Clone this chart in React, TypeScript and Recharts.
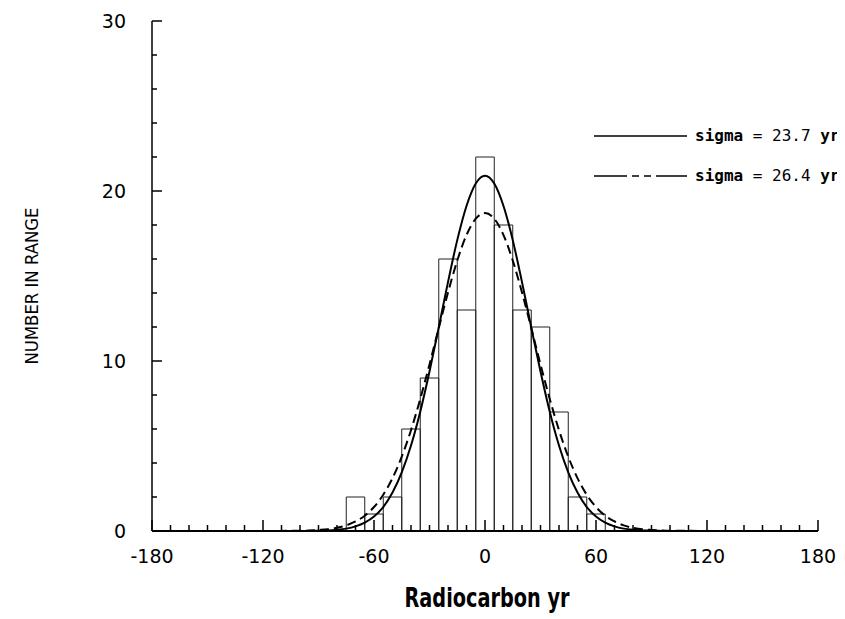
import React from 'react';
import { ComposedChart, Line, XAxis, YAxis, ReferenceArea, Customized } from 'recharts';

// Histogram (bins 10 yr wide, centred on these values)
const binCenters = [-70, -60, -50, -40, -30, -20, -10, 0, 10, 20, 30, 40, 50, 60];
const binCounts = [2, 1, 2, 6, 9, 16, 13, 22, 18, 13, 12, 7, 2, 1];
const BIN_WIDTH = 10;

// Fitted curves
const curveX = [-180, -100, -90, -85, -80, -75, -70, -65, -60, -55, -50, -45, -40, -35, -30, -25, -20, -15, -10, -5, 0,
  5, 10, 15, 20, 25, 30, 35, 40, 45, 50, 55, 60, 65, 70, 75, 80, 85, 90, 100, 180];
const sigma237 = [0, 0, 0.02, 0.03, 0.07, 0.14, 0.27, 0.49, 0.85, 1.41, 2.26, 3.45, 5.03, 7.02, 9.38, 11.98, 14.64, 17.11, 19.12, 20.44, 20.9,
  20.44, 19.12, 17.11, 14.64, 11.98, 9.38, 7.02, 5.03, 3.45, 2.26, 1.41, 0.85, 0.49, 0.27, 0.14, 0.07, 0.03, 0.02, 0, 0];
const sigma264 = [0, 0.01, 0.06, 0.1, 0.19, 0.33, 0.56, 0.9, 1.41, 2.13, 3.11, 4.37, 5.93, 7.77, 9.8, 11.94, 14.03, 15.91, 17.41, 18.37, 18.7,
  18.37, 17.41, 15.91, 14.03, 11.94, 9.8, 7.77, 5.93, 4.37, 3.11, 2.13, 1.41, 0.9, 0.56, 0.33, 0.19, 0.1, 0.06, 0.01, 0];

const xTicks = [-180, -170, -160, -150, -140, -130, -120, -110, -100, -90, -80, -70, -60, -50, -40, -30, -20, -10, 0,
  10, 20, 30, 40, 50, 60, 70, 80, 90, 100, 110, 120, 130, 140, 150, 160, 170, 180];
const yTicks = [0, 2, 4, 6, 8, 10, 12, 14, 16, 18, 20, 22, 24, 26, 28, 30];

const legendLabels = [
  { name: 'sigma', mid: ' = 23.7 ', unit: 'yr' },
  { name: 'sigma', mid: ' = 26.4 ', unit: 'yr' },
];

const data = curveX.map((x, i) => ({ x, s1: sigma237[i], s2: sigma264[i] }));

const XTick = (props: any) => {
  const { x, y, payload } = props;
  const v = payload.value;
  const major = v % 60 === 0;
  return (
    <g>
      <line x1={x} y1={y} x2={x} y2={y - (major ? 11 : 6)} stroke="#000" strokeWidth={1.5} />
      {major && (
        <text x={x} y={y + 32} textAnchor="middle" fontFamily="DejaVu Sans" fontSize={19} fill="#000">
          {v}
        </text>
      )}
    </g>
  );
};

const YTick = (props: any) => {
  const { x, y, payload } = props;
  const v = payload.value;
  const major = v % 10 === 0;
  return (
    <g>
      <line x1={x} y1={y} x2={x + (major ? 10 : 5)} y2={y} stroke="#000" strokeWidth={1.5} />
      {major && (
        <text x={x - 26} y={y + 7} textAnchor="end" fontFamily="DejaVu Sans" fontSize={19} fill="#000">
          {v}
        </text>
      )}
    </g>
  );
};

const Decor = () => (
  <g>
    <text
      x={0}
      y={0}
      transform="translate(30,278) rotate(-90)"
      textAnchor="middle"
      fontFamily="DejaVu Sans"
      fontSize={17}
      textLength={157}
      lengthAdjust="spacingAndGlyphs"
      fill="#000"
    >
      NUMBER IN RANGE
    </text>
    <text
      x={479}
      y={599}
      textAnchor="middle"
      fontFamily="DejaVu Sans"
      fontWeight="bold"
      fontSize={26}
      textLength={165}
      lengthAdjust="spacingAndGlyphs"
      fill="#000"
    >
      Radiocarbon yr
    </text>
    <line x1={586} y1={128} x2={679} y2={128} stroke="#000" strokeWidth={1.5} />
    <line x1={586} y1={168} x2={679} y2={168} stroke="#000" strokeWidth={1.5} strokeDasharray="33 5 7 5 7 5 31 0" />
    {legendLabels.map((l, i) => (
      <text key={i} x={687} y={133 + i * 40} fontFamily="DejaVu Sans Mono" fontSize={16} fill="#000">
        <tspan fontWeight="bold">{l.name}</tspan>
        <tspan>{l.mid}</tspan>
        <tspan fontWeight="bold">{l.unit}</tspan>
      </text>
    ))}
  </g>
);

export default function App() {
  return (
    <ComposedChart
      width={837}
      height={611}
      data={data}
      margin={{ top: 13, right: 27, left: 84, bottom: 58 }}
    >
      <XAxis
        dataKey="x"
        type="number"
        domain={[-180, 180]}
        ticks={xTicks}
        interval={0}
        tickSize={0}
        tickMargin={0}
        tick={<XTick />}
        height={30}
        axisLine={{ stroke: '#000', strokeWidth: 2 }}
        allowDataOverflow
      />
      <YAxis
        type="number"
        domain={[0, 30]}
        ticks={yTicks}
        interval={0}
        tickSize={0}
        tickMargin={0}
        tick={<YTick />}
        width={60}
        axisLine={{ stroke: '#000', strokeWidth: 1.5 }}
        allowDataOverflow
      />
      {binCenters.map((c, i) => (
        <ReferenceArea
          key={c}
          x1={c - BIN_WIDTH / 2}
          x2={c + BIN_WIDTH / 2}
          y1={0}
          y2={binCounts[i]}
          fill="none"
          fillOpacity={0}
          stroke="#222"
          strokeWidth={1}
          strokeOpacity={1}
          ifOverflow="visible"
        />
      ))}
      <Line
        type="monotone"
        dataKey="s1"
        stroke="#000"
        strokeWidth={2}
        dot={false}
        isAnimationActive={false}
      />
      <Line
        type="monotone"
        dataKey="s2"
        stroke="#000"
        strokeWidth={2}
        strokeDasharray="9 5"
        dot={false}
        isAnimationActive={false}
      />
      <Customized component={<Decor />} />
    </ComposedChart>
  );
}
